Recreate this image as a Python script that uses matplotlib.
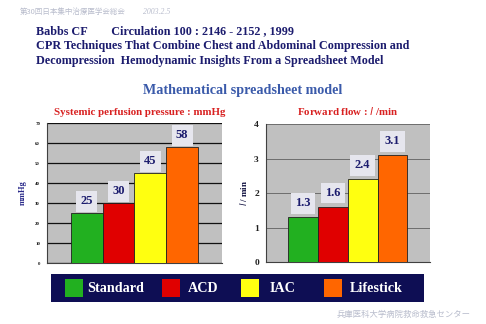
import matplotlib
matplotlib.use("Agg")
import matplotlib.pyplot as plt
from matplotlib.patches import Rectangle

categories = ["Standard", "ACD", "IAC", "Lifestick"]
pressure = [25, 30, 45, 58]
flow = [1.3, 1.6, 2.4, 3.1]
pressure_labels = ["25", "30", "45", "58"]
flow_labels = ["1.3", "1.6", "2.4", "3.1"]
pressure_ticks = [0, 10, 20, 30, 40, 50, 60, 70]
flow_ticks = [0, 1, 2, 3, 4]
colors = ["#22b020", "#e00000", "#ffff10", "#ff6600"]

SERIF = ["Liberation Serif", "DejaVu Serif"]
NAVY = "#1c1c6e"
plt.rcParams["font.family"] = SERIF

fig = plt.figure(figsize=(4.86, 3.24), dpi=100)
fig.patch.set_facecolor("white")

# header texts
fig.text(0.041, 0.963, "第30回日本集中治療医学会総会", fontsize=5.4, color="#b8bccc",
         family=["Noto Sans CJK JP", "DejaVu Sans"], va="center")
fig.text(0.294, 0.963, "2003.2.5", fontsize=5.6, color="#b8bccc", va="center", style="italic")
fig.text(0.074, 0.905, "Babbs CF        Circulation 100 : 2146 - 2152 , 1999",
         fontsize=8.7, fontweight="bold", color=NAVY, va="center")
fig.text(0.074, 0.858, "CPR Techniques That Combine Chest and Abdominal Compression and",
         fontsize=8.7, fontweight="bold", color=NAVY, va="center")
fig.text(0.074, 0.811, "Decompression  Hemodynamic Insights From a Spreadsheet Model",
         fontsize=8.7, fontweight="bold", color=NAVY, va="center")
fig.text(0.50, 0.722, "Mathematical spreadsheet model", fontsize=10.2, fontweight="bold",
         color="#3a5aaa", ha="center", va="center")
fig.text(0.288, 0.654, "Systemic perfusion pressure : mmHg", fontsize=7.8, fontweight="bold",
         color="#d82020", ha="center", va="center")
fig.text(0.716, 0.657, "Forward flow : $\\mathit{l}$ /min", fontsize=7.8, fontweight="bold",
         color="#d82020", ha="center", va="center")
fig.text(0.83, 0.028, "兵庫医科大学病院救命救急センター", fontsize=6, color="#b8bccc",
         family=["Noto Sans CJK JP", "DejaVu Sans"], ha="center", va="center")


def draw(ax, values, labels, ticks, ylim, tick_fs, grid_color, grid_lw, offset):
    x = list(range(len(values)))
    ax.set_facecolor("#c0c0c0")
    ax.bar(x, values, width=1.0, color=colors, edgecolor="#202020", linewidth=0.6, zorder=3)
    ax.set_xlim(-0.5 - 0.75, len(values) - 0.5 + 0.75)
    ax.set_ylim(*ylim)
    ax.set_yticks(ticks)
    ax.set_yticklabels([str(t) for t in ticks], fontsize=tick_fs, fontweight="bold", color="#202020")
    ax.set_xticks([])
    ax.yaxis.grid(True, color=grid_color, linewidth=grid_lw, zorder=1)
    ax.set_axisbelow(True)
    ax.tick_params(axis="y", length=0, pad=5)
    for s in ["top", "right"]:
        ax.spines[s].set_visible(False)
    for s in ["left", "bottom"]:
        ax.spines[s].set_color("#404040")
        ax.spines[s].set_linewidth(0.8)
    for xi, v, lab in zip(x, values, labels):
        ax.annotate(lab, (xi, v), xytext=(0, offset), textcoords="offset points",
                    ha="center", va="center", fontsize=9, fontweight="bold", color=NAVY,
                    bbox=dict(boxstyle="square,pad=0.35", facecolor="#e6e6ee", edgecolor="none"),
                    zorder=4)


ax1 = fig.add_axes([0.0967, 0.188, 0.360, 0.432])
draw(ax1, pressure, pressure_labels, pressure_ticks, (0, 70), 3.5, "#101010", 0.9, 8.5)
ax1.set_ylabel("mmHg", fontsize=6, fontweight="bold", color="#2a2a8a", labelpad=6)

ax2 = fig.add_axes([0.547, 0.191, 0.337, 0.426])
draw(ax2, flow, flow_labels, flow_ticks, (0, 4), 6.8, "#606060", 0.6, 10)
ax2.set_ylabel("$\\mathit{l}$ / min", fontsize=6.5, fontweight="bold", color="#101040", labelpad=4)

# legend box
lax = fig.add_axes([0.105, 0.068, 0.767, 0.086])
lax.set_xlim(51, 424)
lax.set_ylim(0, 28)
lax.set_facecolor("#0e0e54")
for s in lax.spines.values():
    s.set_visible(False)
lax.set_xticks([])
lax.set_yticks([])
square_x = [65, 162, 241, 324]
text_x = [87, 188, 270, 350]
for sx, tx, c, name in zip(square_x, text_x, colors, categories):
    lax.add_patch(Rectangle((sx, 5), 18, 18, facecolor=c, edgecolor="none"))
    lax.text(tx, 14, name, color="white", fontsize=10.2, fontweight="bold",
             va="center", ha="left")

fig.savefig("out.png", dpi=100)
